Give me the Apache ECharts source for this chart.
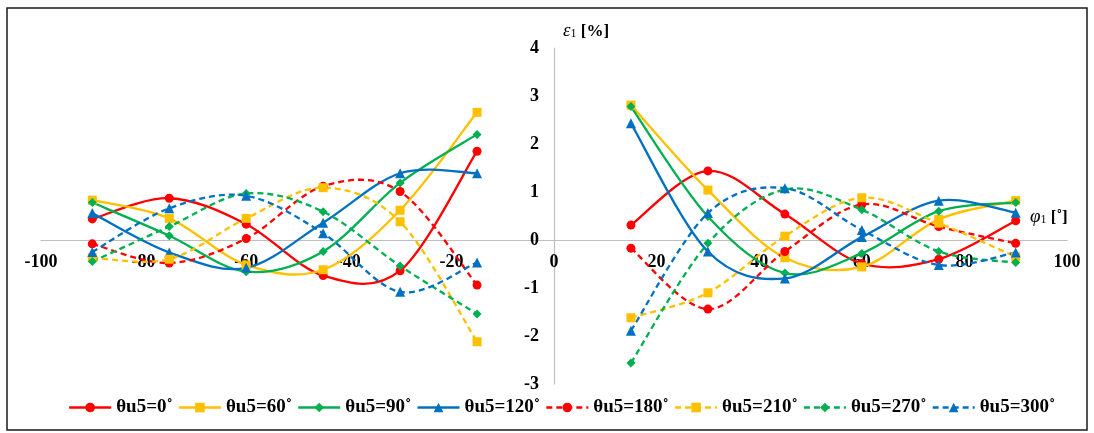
<!DOCTYPE html>
<html>
<head>
<meta charset="utf-8">
<script src="https://cdn.jsdelivr.net/npm/echarts@6/dist/echarts.min.js"></script>
<style>
  html, body { margin: 0; padding: 0; background: #fff; }
  #chart { width: 1094px; height: 433px; }
</style>
</head>
<body>
<div id="chart"></div>
<script>
// Strain ε1 against angle φ1, one curve per θu5 setting (two branches, split at 0)
const xLeft = [-90, -75, -60, -45, -30, -15];
const xRight = [15, 30, 45, 60, 75, 90];

const legendNames = ['θu5=0˚', 'θu5=60˚', 'θu5=90˚', 'θu5=120˚',
                     'θu5=180˚', 'θu5=210˚', 'θu5=270˚', 'θu5=300˚'];

const u0Left    = [0.44, 0.87, 0.33, -0.74, -0.64, 1.85];
const u0Right   = [0.31, 1.44, 0.54, -0.49, -0.40, 0.40];
const u60Left   = [0.83, 0.45, -0.52, -0.62, 0.62, 2.66];
const u60Right  = [2.81, 1.04, -0.37, -0.56, 0.43, 0.82];
const u90Left   = [0.78, 0.09, -0.66, -0.24, 1.19, 2.20];
const u90Right  = [2.78, 0.49, -0.69, -0.28, 0.60, 0.78];
const u120Left  = [0.56, -0.26, -0.58, 0.36, 1.39, 1.39];
const u120Right = [2.43, -0.24, -0.80, 0.06, 0.82, 0.57];
const u180Left  = [-0.08, -0.48, 0.03, 1.12, 1.01, -0.94];
const u180Right = [-0.17, -1.44, -0.24, 0.74, 0.28, -0.07];
const u210Left  = [-0.37, -0.40, 0.45, 1.09, 0.38, -2.12];
const u210Right = [-1.62, -1.10, 0.08, 0.88, 0.35, -0.35];
const u270Left  = [-0.45, 0.28, 0.97, 0.59, -0.54, -1.54];
const u270Right = [-2.56, -0.07, 1.05, 0.63, -0.24, -0.47];
const u300Left  = [-0.25, 0.66, 0.92, 0.14, -1.08, -0.47];
const u300Right = [-1.89, 0.56, 1.08, 0.21, -0.52, -0.26];

const RED = '#FF0000', YELLOW = '#FFC000', GREEN = '#00B050', BLUE = '#0070C0';
const SERIF = '"Liberation Serif", "Times New Roman", serif';
const DASH = [6, 4];

const styles = [
  { c: RED,    sym: 'circle',   size: 9,  dash: 'solid' },
  { c: YELLOW, sym: 'rect',     size: 9,  dash: 'solid' },
  { c: GREEN,  sym: 'diamond',  size: 9,  dash: 'solid' },
  { c: BLUE,   sym: 'triangle', size: 10, dash: 'solid' },
  { c: RED,    sym: 'circle',   size: 9,  dash: DASH },
  { c: YELLOW, sym: 'rect',     size: 9,  dash: DASH },
  { c: GREEN,  sym: 'diamond',  size: 9,  dash: DASH },
  { c: BLUE,   sym: 'triangle', size: 10, dash: DASH }
];
const values = [
  [u0Left, u0Right], [u60Left, u60Right], [u90Left, u90Right], [u120Left, u120Right],
  [u180Left, u180Right], [u210Left, u210Right], [u270Left, u270Right], [u300Left, u300Right]
];

// left branch, a gap at 0, then the right branch
function buildData(left, right) {
  const d = xLeft.map((x, i) => [x, left[i]]);
  d.push([0, '-']);
  return d.concat(xRight.map((x, i) => [x, right[i]]));
}

// Cardinal-spline path (tension 1/6) through one branch, in pixel space
function branchPath(api, xs, ys) {
  const p = xs.map((x, i) => api.coord([x, ys[i]]));
  let d = 'M' + p[0][0] + ' ' + p[0][1];
  for (let i = 0; i < p.length - 1; i++) {
    const p0 = p[Math.max(i - 1, 0)], p1 = p[i], p2 = p[i + 1], p3 = p[Math.min(i + 2, p.length - 1)];
    const c1x = p1[0] + (p2[0] - p0[0]) / 6, c1y = p1[1] + (p2[1] - p0[1]) / 6;
    const c2x = p2[0] - (p3[0] - p1[0]) / 6, c2y = p2[1] - (p3[1] - p1[1]) / 6;
    d += ' C' + c1x + ' ' + c1y + ' ' + c2x + ' ' + c2y + ' ' + p2[0] + ' ' + p2[1];
  }
  return d;
}

const series = [];
// smooth curves
values.forEach((v, k) => {
  series.push({
    type: 'custom',
    name: legendNames[k] + ' curve',
    data: [[xLeft[0], v[0][0]]],
    silent: true,
    z: 2,
    renderItem: function (params, api) {
      const pathData = branchPath(api, xLeft, v[0]) + ' ' + branchPath(api, xRight, v[1]);
      return {
        type: 'path',
        shape: { pathData: pathData },
        style: {
          fill: null, stroke: styles[k].c, lineWidth: 2.3,
          lineDash: styles[k].dash === 'solid' ? null : styles[k].dash
        },
        z2: k
      };
    }
  });
});
// data markers (and legend entries)
values.forEach((v, k) => {
  series.push({
    name: legendNames[k],
    type: 'line',
    data: buildData(v[0], v[1]),
    symbol: styles[k].sym,
    symbolSize: styles[k].size,
    showAllSymbol: true,
    itemStyle: { color: styles[k].c },
    lineStyle: { color: styles[k].c, width: 2.3, type: styles[k].dash, opacity: 0 },
    z: 3
  });
});

const chart = echarts.init(document.getElementById('chart'));
chart.setOption({
  animation: false,
  backgroundColor: '#fff',
  grid: { left: 41, top: 48, width: 1026, height: 336, containLabel: false },
  xAxis: {
    type: 'value', min: -100, max: 100, interval: 20,
    position: 'bottom', offset: -144,
    axisLine: { onZero: false, lineStyle: { color: '#BFBFBF', width: 1.2 } },
    axisTick: { show: false },
    splitLine: { show: false },
    axisLabel: { fontFamily: SERIF, fontWeight: 'bold', fontSize: 18, color: '#000', margin: 13 }
  },
  yAxis: {
    type: 'value', min: -3, max: 4, interval: 1,
    position: 'left', offset: -513,
    axisLine: { show: true, onZero: false, lineStyle: { color: '#BFBFBF', width: 1.2 } },
    axisTick: { show: false },
    splitLine: { show: false },
    axisLabel: { fontFamily: SERIF, fontWeight: 'bold', fontSize: 18, color: '#000', margin: 15 }
  },
  legend: {
    data: legendNames.map((n, k) => ({
      name: n,
      itemStyle: { color: styles[k].c },
      lineStyle: { color: styles[k].c, width: 2.3, type: styles[k].dash, opacity: 1 }
    })),
    bottom: 11,
    left: 63,
    itemWidth: 42,
    itemHeight: 12,
    itemGap: 5,
    textStyle: { fontFamily: SERIF, fontWeight: 'bold', fontSize: 19, color: '#000' }
  },
  graphic: [
    {
      type: 'rect', shape: { x: 7, y: 8, width: 1080, height: 422 },
      style: { fill: null, stroke: '#1a1a1a', lineWidth: 1.5 }, silent: true, z: -1
    },
    {
      type: 'text', x: 563, y: 20,
      style: {
        text: '{i|ε}{s|1}{n| [%]}',
        rich: {
          i: { fontFamily: SERIF, fontStyle: 'italic', fontSize: 19, fill: '#000', verticalAlign: 'bottom' },
          s: { fontFamily: SERIF, fontSize: 12, fill: '#000', padding: [8, 0, 0, 0], verticalAlign: 'bottom' },
          n: { fontFamily: SERIF, fontWeight: 'bold', fontSize: 17, fill: '#000', verticalAlign: 'bottom' }
        }
      }
    },
    {
      type: 'text', x: 1030, y: 206,
      style: {
        text: '{i|φ}{s|1}{n| [˚]}',
        rich: {
          i: { fontFamily: SERIF, fontStyle: 'italic', fontSize: 19, fill: '#000', verticalAlign: 'bottom' },
          s: { fontFamily: SERIF, fontSize: 12, fill: '#000', padding: [8, 0, 0, 0], verticalAlign: 'bottom' },
          n: { fontFamily: SERIF, fontWeight: 'bold', fontSize: 17, fill: '#000', verticalAlign: 'bottom' }
        }
      }
    }
  ],
  series: series
});
</script>
</body>
</html>
